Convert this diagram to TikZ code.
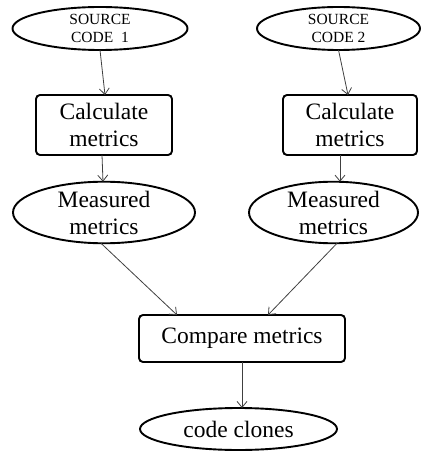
\documentclass[tikz,border=0pt]{standalone}
\usepackage{fontspec}
\setmainfont{Liberation Serif}
\usetikzlibrary{shapes.geometric,arrows.meta}
\begin{document}
\begin{tikzpicture}[x=1pt,y=-1pt,
  every node/.style={inner sep=0pt,outer sep=0pt},
  oval/.style={ellipse,draw=black,line width=1.9pt,align=center},
  procbox/.style={rectangle,rounded corners=4pt,draw=black,line width=1.9pt,align=center},
  big/.style={font=\fontsize{23.5}{27}\selectfont},
  small/.style={font=\fontsize{15.5}{18.5}\selectfont},
  flow/.style={draw=black!75,line width=0.8pt,-{Straight Barb[length=6pt,width=10pt,line width=0.8pt]}}
]
\useasboundingbox (0,0) rectangle (423,454);

% inputs
\node[oval,small,minimum width=175pt,minimum height=43pt] (sc1) at (100,28.5) {SOURCE\\CODE~~1};
\node[oval,small,minimum width=163pt,minimum height=43pt] (sc2) at (338.5,28.5) {SOURCE\\CODE 2};

% metric calculation
\node[procbox,big,minimum width=136pt,minimum height=60pt] (calc1) at (104,125) {Calculate\\metrics};
\node[procbox,big,minimum width=134pt,minimum height=60pt] (calc2) at (350,125) {Calculate\\metrics};

% measured results
\node[oval,big,minimum width=182pt,minimum height=61pt] (meas1) at (104,212.5) {Measured\\metrics};
\node[oval,big,minimum width=169pt,minimum height=61pt] (meas2) at (333.5,212.5) {Measured\\metrics};

% comparison and output
\node[procbox,big,minimum width=206pt,minimum height=47pt] (cmp) at (242,338.5) {Compare metrics};
\node[oval,big,minimum width=197pt,minimum height=42pt] (clones) at (238.5,429) {code clones};

% connectors
\draw[flow] (sc1.south) -- ([xshift=1pt]calc1.north);
\draw[flow] (sc2.south) -- ([xshift=-2pt]calc2.north);
\draw[flow] ([xshift=-2pt]calc1.south) -- ([xshift=-1pt]meas1.north);
\draw[flow] ([xshift=-10pt]calc2.south) -- ([xshift=6.5pt]meas2.north);
\draw[flow] ([xshift=-3pt]meas1.south) -- ([xshift=-65pt]cmp.north);
\draw[flow] ([xshift=3.5pt]meas2.south) -- ([xshift=26pt]cmp.north);
\draw[flow] (cmp.south) -- (cmp.south |- clones.north);
\end{tikzpicture}
\end{document}
